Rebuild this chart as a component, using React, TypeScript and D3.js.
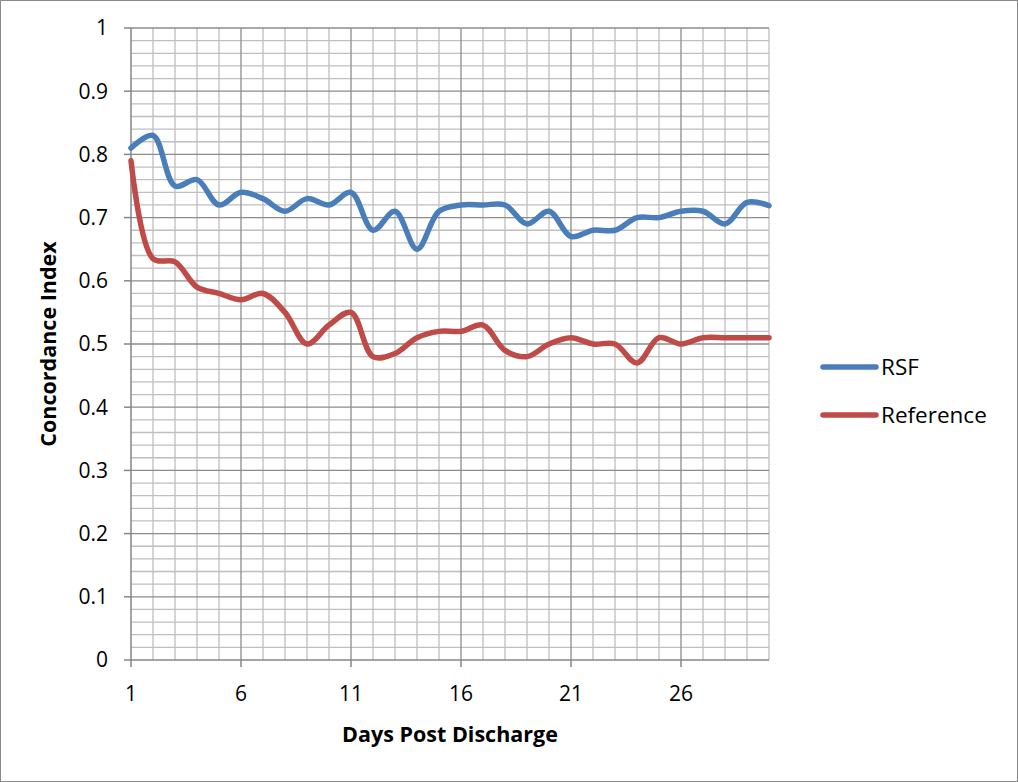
import React, { useEffect, useRef } from "react";
import * as d3 from "d3";

const days: number[] = d3.range(1, 31);
const rsf: number[] = [
  0.81, 0.83, 0.75, 0.76, 0.72, 0.74, 0.73, 0.71, 0.73, 0.72,
  0.74, 0.68, 0.71, 0.65, 0.71, 0.72, 0.72, 0.72, 0.69, 0.71,
  0.67, 0.68, 0.68, 0.70, 0.70, 0.71, 0.71, 0.69, 0.724, 0.719,
];
const reference: number[] = [
  0.79, 0.635, 0.63, 0.59, 0.58, 0.57, 0.58, 0.55, 0.50, 0.53,
  0.55, 0.48, 0.485, 0.51, 0.52, 0.52, 0.53, 0.49, 0.48, 0.50,
  0.51, 0.50, 0.50, 0.47, 0.51, 0.50, 0.51, 0.51, 0.51, 0.51,
];
const xTickLabels: number[] = [1, 6, 11, 16, 21, 26];
const yTicks: number[] = d3.range(0, 11).map((i) => i / 10);
const seriesNames: string[] = ["RSF", "Reference"];
const seriesColors: string[] = ["#4A7EBB", "#BE4B48"];

const W = 1018;
const H = 782;
const FONT = "'Open Sans', 'Noto Sans', sans-serif";

export default function App() {
  const ref = useRef<SVGSVGElement | null>(null);

  useEffect(() => {
    const svg = d3.select(ref.current);
    svg.selectAll("*").remove();

    const left = 131, right = 769, top = 28, bottom = 660;
    const x = d3.scaleLinear().domain([1, 30]).range([left, right]);
    const y = d3.scaleLinear().domain([0, 1]).range([bottom, top]);

    svg.append("rect").attr("x", 0.5).attr("y", 0.5).attr("width", W - 1).attr("height", H - 1)
      .attr("fill", "#fff").attr("stroke", "#8a8a8a").attr("stroke-width", 1);

    const g = svg.append("g");
    const minorY = d3.range(0, 51).map((i) => i / 50).filter((v) => Math.round(v * 50) % 5 !== 0);
    g.selectAll(".hmin").data(minorY).enter().append("line")
      .attr("x1", left).attr("x2", right)
      .attr("y1", (d) => y(d)).attr("y2", (d) => y(d))
      .attr("stroke", "#bfbfbf").attr("stroke-width", 1.3);
    const minorX = days.filter((d) => (d - 1) % 5 !== 0);
    g.selectAll(".vmin").data(minorX).enter().append("line")
      .attr("y1", top).attr("y2", bottom)
      .attr("x1", (d) => x(d)).attr("x2", (d) => x(d))
      .attr("stroke", "#bfbfbf").attr("stroke-width", 1.3);
    g.selectAll(".hmaj").data(yTicks.filter((v) => v > 0)).enter().append("line")
      .attr("x1", left).attr("x2", right)
      .attr("y1", (d) => y(d)).attr("y2", (d) => y(d))
      .attr("stroke", "#8c8c8c").attr("stroke-width", 1.3);
    g.selectAll(".vmaj").data(xTickLabels.filter((d) => d > 1)).enter().append("line")
      .attr("y1", top).attr("y2", bottom)
      .attr("x1", (d) => x(d)).attr("x2", (d) => x(d))
      .attr("stroke", "#8c8c8c").attr("stroke-width", 1.3);

    g.append("line").attr("x1", left).attr("x2", left).attr("y1", top).attr("y2", bottom)
      .attr("stroke", "#868686").attr("stroke-width", 1.5);
    g.append("line").attr("x1", left).attr("x2", right).attr("y1", bottom).attr("y2", bottom)
      .attr("stroke", "#868686").attr("stroke-width", 1.5);

    g.selectAll(".yt").data(yTicks).enter().append("line")
      .attr("x1", left - 7).attr("x2", left)
      .attr("y1", (d) => y(d)).attr("y2", (d) => y(d))
      .attr("stroke", "#868686").attr("stroke-width", 1.5);
    g.selectAll(".yl").data(yTicks).enter().append("text")
      .attr("x", 108).attr("y", (d) => y(d)).attr("dy", "0.35em")
      .attr("text-anchor", "end").attr("font-family", FONT).attr("font-size", 21)
      .attr("fill", "#000").text((d) => d3.format("~g")(d));

    g.selectAll(".xt").data(xTickLabels).enter().append("line")
      .attr("x1", (d) => x(d)).attr("x2", (d) => x(d))
      .attr("y1", bottom).attr("y2", bottom + 7)
      .attr("stroke", "#868686").attr("stroke-width", 1.5);
    g.selectAll(".xl").data(xTickLabels).enter().append("text")
      .attr("x", (d) => x(d)).attr("y", 701)
      .attr("text-anchor", "middle").attr("font-family", FONT).attr("font-size", 21)
      .attr("fill", "#000").text((d) => String(d));

    g.append("text").attr("x", (left + right) / 2).attr("y", 742)
      .attr("text-anchor", "middle").attr("font-family", FONT).attr("font-size", 21.5)
      .attr("font-weight", "bold").text("Days Post Discharge");
    g.append("text")
      .attr("transform", `translate(56,${(top + bottom) / 2}) rotate(-90)`)
      .attr("text-anchor", "middle").attr("font-family", FONT).attr("font-size", 21.5)
      .attr("font-weight", "bold").text("Concordance Index");

    const line = d3.line<number>()
      .x((_, i) => x(days[i]))
      .y((d) => y(d))
      .curve(d3.curveCatmullRom.alpha(0.5));
    [rsf, reference].forEach((s, k) => {
      g.append("path").attr("d", line(s) as string).attr("fill", "none")
        .attr("stroke", seriesColors[k]).attr("stroke-width", 5.5)
        .attr("stroke-linecap", "round").attr("stroke-linejoin", "round");
    });

    const legY = [367, 415];
    seriesNames.forEach((name, k) => {
      g.append("line").attr("x1", 823).attr("x2", 876).attr("y1", legY[k]).attr("y2", legY[k])
        .attr("stroke", seriesColors[k]).attr("stroke-width", 5.5).attr("stroke-linecap", "round");
      g.append("text").attr("x", 881).attr("y", legY[k]).attr("dy", "0.35em")
        .attr("font-family", FONT).attr("font-size", 22.5).text(name);
    });
  }, []);

  return (
    <svg ref={ref} width={W} height={H}
      style={{ position: "absolute", left: 0, top: 0, display: "block" }} />
  );
}
